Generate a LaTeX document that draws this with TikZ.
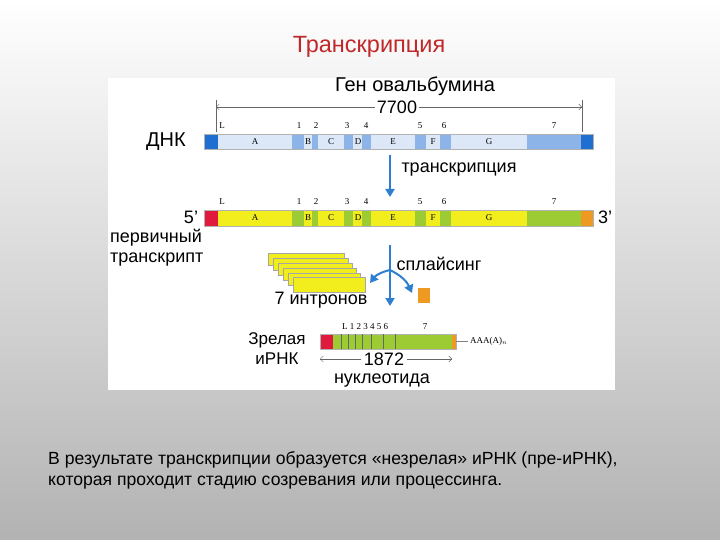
\documentclass[tikz,border=0pt]{standalone}
\usepackage{fontspec}
\setmainfont{Liberation Sans}
\newfontfamily\serifl{Liberation Serif}
\usetikzlibrary{arrows.meta}
\definecolor{exB}{HTML}{DCE8F8}
\definecolor{inB}{HTML}{8DB4E8}
\definecolor{dkB}{HTML}{1F6FD0}
\definecolor{exY}{HTML}{F2EE1E}
\definecolor{inG}{HTML}{9CCB34}
\definecolor{capR}{HTML}{E01A3C}
\definecolor{endO}{HTML}{EE9A22}
\definecolor{arrB}{HTML}{2F7FD0}
\definecolor{ttl}{HTML}{C0282A}
\tikzset{lbl/.style={font=\fontsize{18}{20}\selectfont,inner sep=0pt},
 tiny/.style={font=\serifl\fontsize{9}{10}\selectfont,inner sep=0pt},
 seg/.style={draw=black!30,line width=0.3pt},
 dim/.style={draw=black!60,line width=0.4pt,{Straight Barb[length=3pt]}-{Straight Barb[length=3pt]}},
 bigarr/.style={draw=arrB,line width=2pt,-{Triangle[length=8pt,width=9pt]}}}
\begin{document}
\begin{tikzpicture}[x=1pt,y=-1pt]
\shade[top color=white,bottom color=black!30] (0,0) rectangle (720,540);
\useasboundingbox (0,0) rectangle (720,540);
\fill[white] (108,78) rectangle (615,390);
\node[font=\fontsize{23.5}{25}\selectfont,inner sep=0pt] (title) at (369,47) {\textcolor{ttl}{Транскрипция}};
% DNA
\node[lbl,font=\fontsize{20}{22}\selectfont] (gene) at (415,86) {Ген овальбумина};
\draw[dim] (216,107) -- (582,107);
\draw[black!60,line width=0.4pt] (216,100) -- (216,132) (582,100) -- (582,132);
\node[lbl,fill=white,inner xsep=2pt] (n7700) at (397,107) {7700};
\foreach \a/\b/\c in {204/218/dkB,218/292/exB,292/304/inB,304/312/exB,312/318/inB,318/344/exB,344/353/inB,353/362/exB,362/371/inB,371/415/exB,415/426/inB,426/440/exB,440/451/inB,451/527/exB,527/581/inB,581/593/dkB}
  \fill[\c] (\a,134) rectangle (\b,149);
\draw[seg] (204,134) rectangle (593,149);
\node[lbl,font=\fontsize{20}{22}\selectfont] (dnk) at (166,142) {ДНК};
\foreach \x/\t in {222/L,299/1,316/2,347/3,366/4,420/5,444/6,554/7} \node[tiny] at (\x,126) {\t};
\foreach \x/\t in {255/A,308/B,331/C,358/D,393/E,433/F,489/G} \node[tiny] at (\x,142) {\t};
% arrow
\coordinate (t1) at (390,155); \coordinate (t2) at (390,197);
\draw[bigarr] (t1) -- (t2);
\node[lbl] (trans) at (459,170) {транскрипция};
% pre-mRNA
\foreach \a/\b/\c in {204/218/capR,218/292/exY,292/304/inG,304/312/exY,312/318/inG,318/344/exY,344/353/inG,353/362/exY,362/371/inG,371/415/exY,415/426/inG,426/440/exY,440/451/inG,451/527/exY,527/581/inG,581/593/endO}
  \fill[\c] (\a,210) rectangle (\b,226);
\draw[seg] (204,210) rectangle (593,226);
\foreach \x/\t in {222/L,299/1,316/2,347/3,366/4,420/5,444/6,554/7} \node[tiny] at (\x,202) {\t};
\foreach \x/\t in {255/A,308/B,331/C,358/D,393/E,433/F,489/G} \node[tiny] at (\x,218) {\t};
\node[lbl] (five) at (191,217) {5'};
\node[lbl] (three) at (605,217) {3'};
\node[lbl,align=left,anchor=north west] (prim) at (110,229) {первичный\\транскрипт};
% introns
\foreach \i in {0,...,5} \filldraw[fill=exY,draw=black!35,line width=0.3pt] (268+5*\i,253+5*\i) rectangle (344+4*\i,265+5*\i);
\filldraw[fill=exY,draw=black!35,line width=0.3pt] (293,277) rectangle (365,292);
\node[lbl] (intr) at (321,300) {7 интронов};
% splicing arrow
\coordinate (s1) at (390,245); \coordinate (s2) at (390,306);
\coordinate (sl) at (370,283); \coordinate (sr) at (412,293);
\draw[bigarr] (s1) -- (s2);
\draw[bigarr] (390,270) to[bend right=20] (sl);
\draw[bigarr] (390,270) to[bend left=20] (sr);
\node[lbl] (spl) at (439,264) {сплайсинг};
\fill[endO] (418,288) rectangle (430,303);
% mature
\fill[capR] (320,334) rectangle (333,349);
\fill[inG] (333,334) rectangle (452,349);
\fill[endO] (452,334) rectangle (456,349);
\draw[seg] (320,334) rectangle (456,349);
\foreach \x in {341,348,355,362,371,383,395} \draw[black!60,line width=0.4pt] (\x,334) -- (\x,349);
\node[tiny] at (365,327) {L 1 2 3 4 5 6};
\node[tiny] at (425,327) {7};
\draw[black!50,line width=0.4pt] (456,341) -- (468,341);
\node[tiny,anchor=west] (poly) at (470,341) {AAA(A)$_n$};
\draw[dim] (320,359) -- (452,359);
\node[lbl,fill=white,inner xsep=3pt] (n1872) at (384,359) {1872};
\node[lbl] (nucl) at (382,381) {нуклеотида};
\node[lbl,align=center,font=\fontsize{17}{20}\selectfont] (mat) at (277,349) {Зрелая\\иРНК};
% bottom text
\node[anchor=north west,align=left,font=\fontsize{17.6}{21}\selectfont,inner sep=0pt] (txt) at (48,451) {В результате транскрипции образуется «незрелая» иРНК (пре-иРНК),\\которая проходит стадию созревания или процессинга.};
\end{tikzpicture}
\end{document}
